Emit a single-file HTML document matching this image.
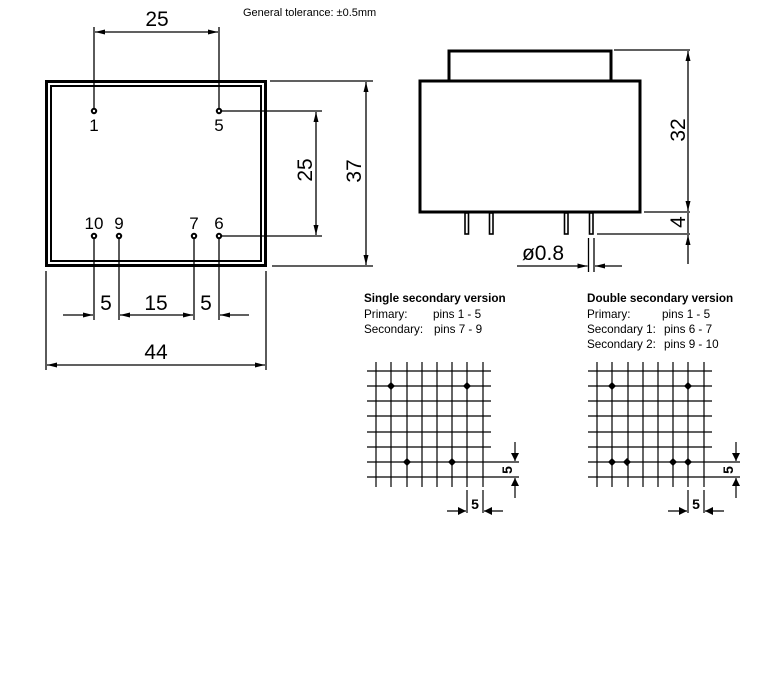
<!DOCTYPE html>
<html><head><style>
html,body{margin:0;padding:0;background:#fff;}
svg{display:block;}
text{font-family:"Liberation Sans",sans-serif;fill:#000;}
</style></head><body>
<svg width="762" height="681" viewBox="0 0 762 681" xmlns="http://www.w3.org/2000/svg">
<defs>
<marker id="a" viewBox="0 0 10 6" refX="10" refY="3" markerWidth="10" markerHeight="6" markerUnits="userSpaceOnUse" orient="auto-start-reverse"><path d="M0,0.5 L10,3 L0,5.5z" fill="#000"/></marker>
<marker id="b" viewBox="0 0 8 8" refX="8" refY="4" markerWidth="8" markerHeight="8" markerUnits="userSpaceOnUse" orient="auto-start-reverse"><path d="M0,0 L8,4 L0,8z" fill="#000"/></marker>
</defs>
<text x="243" y="16" font-size="11">General tolerance: ±0.5mm</text>

<rect x="46.5" y="81.5" width="219" height="184" fill="none" stroke="#000" stroke-width="3"/>
<rect x="51" y="86" width="210" height="175" fill="none" stroke="#000" stroke-width="2"/>
<g stroke="#000" stroke-width="1.3" fill="none">
<line x1="94" y1="27" x2="94" y2="108"/>
<line x1="219" y1="27" x2="219" y2="108"/>
<line x1="95" y1="32" x2="218" y2="32" marker-start="url(#a)" marker-end="url(#a)"/>
<line x1="222" y1="111" x2="322" y2="111"/>
<line x1="222" y1="236" x2="322" y2="236"/>
<line x1="316" y1="112" x2="316" y2="235" marker-start="url(#a)" marker-end="url(#a)"/>
<line x1="270" y1="81" x2="373" y2="81"/>
<line x1="272" y1="266" x2="373" y2="266"/>
<line x1="366" y1="82" x2="366" y2="265" marker-start="url(#a)" marker-end="url(#a)"/>
<line x1="94" y1="239" x2="94" y2="320"/>
<line x1="119" y1="239" x2="119" y2="320"/>
<line x1="194" y1="239" x2="194" y2="320"/>
<line x1="219" y1="239" x2="219" y2="320"/>
<line x1="63" y1="315" x2="93" y2="315" marker-end="url(#a)"/>
<line x1="120" y1="315" x2="193" y2="315" marker-start="url(#a)" marker-end="url(#a)"/>
<line x1="249" y1="315" x2="220" y2="315" marker-end="url(#a)"/>
<line x1="46" y1="271" x2="46" y2="370"/>
<line x1="266" y1="271" x2="266" y2="370"/>
<line x1="47" y1="365" x2="265" y2="365" marker-start="url(#a)" marker-end="url(#a)"/>
</g>
<g fill="#fff" stroke="#000" stroke-width="2">
<circle cx="94" cy="111" r="2.2"/><circle cx="219" cy="111" r="2.2"/>
<circle cx="94" cy="236" r="2.2"/><circle cx="119" cy="236" r="2.2"/>
<circle cx="194" cy="236" r="2.2"/><circle cx="219" cy="236" r="2.2"/>
</g>
<g font-size="17" text-anchor="middle">
<text x="94" y="131">1</text><text x="219" y="131">5</text>
<text x="94" y="229">10</text><text x="119" y="229">9</text>
<text x="194" y="229">7</text><text x="219" y="229">6</text>
</g>
<g font-size="21" text-anchor="middle">
<text x="157" y="26">25</text>
<text x="106" y="310">5</text><text x="156" y="310">15</text><text x="206" y="310">5</text>
<text x="156" y="359">44</text>
<text transform="translate(312,170) rotate(-90)">25</text>
<text transform="translate(361,171) rotate(-90)">37</text>
<text transform="translate(685,130) rotate(-90)">32</text>
<text transform="translate(685,222) rotate(-90)">4</text>
<text x="543" y="260">ø0.8</text>
</g>

<rect x="449" y="51" width="162" height="30" fill="none" stroke="#000" stroke-width="3"/>
<rect x="420" y="81" width="220" height="131" fill="#fff" stroke="#000" stroke-width="3"/>
<g fill="#fff" stroke="#000" stroke-width="1.6">
<rect x="465" y="213" width="3.5" height="21"/><rect x="489.5" y="213" width="3.5" height="21"/>
<rect x="564.5" y="213" width="3.5" height="21"/><rect x="589.5" y="213" width="3.5" height="21"/>
</g>
<g stroke="#000" stroke-width="1.3" fill="none">
<line x1="614" y1="50" x2="690" y2="50"/>
<line x1="644" y1="212" x2="690" y2="212"/>
<line x1="597" y1="234" x2="690" y2="234"/>
<line x1="688" y1="51" x2="688" y2="211" marker-start="url(#a)" marker-end="url(#a)"/>
<line x1="688" y1="213" x2="688" y2="233" />
<line x1="688" y1="264" x2="688" y2="235" marker-end="url(#a)"/>
<line x1="588.5" y1="238" x2="588.5" y2="272"/>
<line x1="594" y1="238" x2="594" y2="272"/>
<line x1="517" y1="266" x2="587.5" y2="266" marker-end="url(#a)"/>
<line x1="622" y1="266" x2="595" y2="266" marker-end="url(#a)"/>
</g>

<g font-size="11.7">
<text x="364" y="302" font-weight="bold">Single secondary version</text>
<text x="364" y="318">Primary:</text><text x="433" y="318">pins 1 - 5</text>
<text x="364" y="333">Secondary:</text><text x="434" y="333">pins 7 - 9</text>
<text x="587" y="302" font-weight="bold">Double secondary version</text>
<text x="587" y="318">Primary:</text><text x="662" y="318">pins 1 - 5</text>
<text x="587" y="333">Secondary 1:</text><text x="664" y="333">pins 6 - 7</text>
<text x="587" y="348">Secondary 2:</text><text x="664" y="348">pins 9 - 10</text>
</g>

<g stroke="#000" stroke-width="1.2">
<line x1="376" y1="362" x2="376" y2="487"/><line x1="391" y1="362" x2="391" y2="487"/>
<line x1="407" y1="362" x2="407" y2="487"/><line x1="422" y1="362" x2="422" y2="487"/>
<line x1="437" y1="362" x2="437" y2="487"/><line x1="452" y1="362" x2="452" y2="487"/>
<line x1="467" y1="362" x2="467" y2="487"/><line x1="483" y1="362" x2="483" y2="487"/>
<line x1="367" y1="371" x2="491" y2="371"/><line x1="367" y1="386" x2="491" y2="386"/>
<line x1="367" y1="401" x2="491" y2="401"/><line x1="367" y1="416" x2="491" y2="416"/>
<line x1="367" y1="432" x2="491" y2="432"/><line x1="367" y1="447" x2="491" y2="447"/>
<line x1="367" y1="462" x2="519" y2="462"/><line x1="367" y1="477" x2="519" y2="477"/>
<line x1="467" y1="490" x2="467" y2="513"/><line x1="483" y1="490" x2="483" y2="513"/>
<line x1="515" y1="442" x2="515" y2="461" marker-end="url(#b)"/>
<line x1="515" y1="498" x2="515" y2="478" marker-end="url(#b)"/>
<line x1="447" y1="511" x2="466" y2="511" marker-end="url(#b)"/>
<line x1="503" y1="511" x2="484" y2="511" marker-end="url(#b)"/>
</g>
<g transform="translate(221,0)" stroke="#000" stroke-width="1.2">
<line x1="376" y1="362" x2="376" y2="487"/><line x1="391" y1="362" x2="391" y2="487"/>
<line x1="407" y1="362" x2="407" y2="487"/><line x1="422" y1="362" x2="422" y2="487"/>
<line x1="437" y1="362" x2="437" y2="487"/><line x1="452" y1="362" x2="452" y2="487"/>
<line x1="467" y1="362" x2="467" y2="487"/><line x1="483" y1="362" x2="483" y2="487"/>
<line x1="367" y1="371" x2="491" y2="371"/><line x1="367" y1="386" x2="491" y2="386"/>
<line x1="367" y1="401" x2="491" y2="401"/><line x1="367" y1="416" x2="491" y2="416"/>
<line x1="367" y1="432" x2="491" y2="432"/><line x1="367" y1="447" x2="491" y2="447"/>
<line x1="367" y1="462" x2="519" y2="462"/><line x1="367" y1="477" x2="519" y2="477"/>
<line x1="467" y1="490" x2="467" y2="513"/><line x1="483" y1="490" x2="483" y2="513"/>
<line x1="515" y1="442" x2="515" y2="461" marker-end="url(#b)"/>
<line x1="515" y1="498" x2="515" y2="478" marker-end="url(#b)"/>
<line x1="447" y1="511" x2="466" y2="511" marker-end="url(#b)"/>
<line x1="503" y1="511" x2="484" y2="511" marker-end="url(#b)"/>
</g>
<g fill="#000">
<path d="M391,382 l4,4 l-4,4 l-4,-4z"/><path d="M467,382 l4,4 l-4,4 l-4,-4z"/>
<path d="M407,458 l4,4 l-4,4 l-4,-4z"/><path d="M452,458 l4,4 l-4,4 l-4,-4z"/>
<path d="M612,382 l4,4 l-4,4 l-4,-4z"/><path d="M688,382 l4,4 l-4,4 l-4,-4z"/>
<path d="M612,458 l4,4 l-4,4 l-4,-4z"/><path d="M627,458 l4,4 l-4,4 l-4,-4z"/>
<path d="M673,458 l4,4 l-4,4 l-4,-4z"/><path d="M688,458 l4,4 l-4,4 l-4,-4z"/>
</g>
<g font-size="14" font-weight="bold" text-anchor="middle">
<text x="475" y="509">5</text>
<text transform="translate(512,470) rotate(-90)">5</text>
<text x="696" y="509">5</text>
<text transform="translate(733,470) rotate(-90)">5</text>
</g>
</svg>
</body></html>
